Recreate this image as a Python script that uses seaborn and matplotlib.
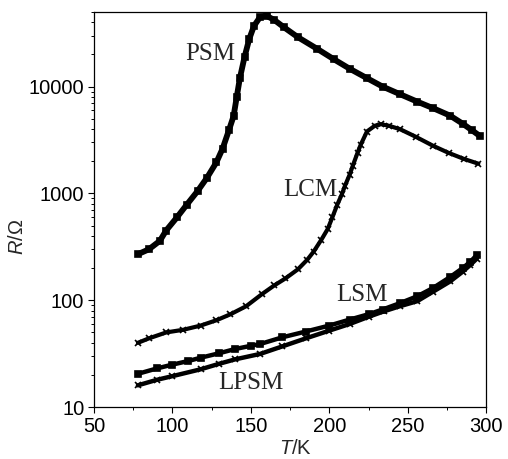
import numpy as np
import pandas as pd
import seaborn as sns
from matplotlib import pyplot as plt
from matplotlib import ticker

# R(T) curves
psm_t = [78, 85, 92, 96, 103, 109, 116, 122, 128, 132, 136, 139, 141, 143, 146, 149, 152, 156,
         160, 165, 171, 180, 192, 203, 213, 224, 234, 245, 256, 266, 277, 285, 291, 296]
psm_r = [270, 300, 360, 450, 600, 780, 1050, 1400, 1950, 2630, 3900, 5300, 8000, 12000, 19000,
         28000, 37000, 45000, 46000, 42000, 36000, 29000, 22700, 18000, 14700, 12000, 10000,
         8500, 7240, 6300, 5350, 4500, 3900, 3450]

lcm_t = [78, 85, 96, 107, 118, 128, 137, 147, 157, 165, 172, 180, 186, 190, 195, 199, 202, 205,
         208, 210, 213, 215, 218, 220, 224, 229, 233, 238, 245, 255, 266, 276, 286, 295]
lcm_r = [40, 44, 50, 53, 58, 65, 74, 88, 114, 138, 160, 195, 240, 285, 370, 465, 600, 780,
         980, 1180, 1500, 1820, 2400, 2850, 3800, 4300, 4450, 4300, 4000, 3400, 2800, 2400,
         2100, 1900]

lsm_t = [78, 90, 100, 110, 118, 130, 140, 150, 156, 170, 185, 200, 213, 225, 234, 245, 256,
         266, 277, 285, 290, 294]
lsm_r = [20.5, 23, 25, 27, 29, 32, 35, 37.5, 39, 45, 51, 58, 66, 74, 82, 94, 109, 130, 165,
         200, 230, 265]

lpsm_t = [78, 90, 100, 118, 130, 140, 156, 170, 185, 200, 213, 225, 235, 245, 256, 266, 277,
          285, 290, 294]
lpsm_r = [16, 18, 19.5, 22.6, 25.5, 28, 31.5, 37, 44, 52, 60, 70, 79, 88, 98, 120, 150, 185,
          215, 245]

sns.set_style('ticks')
plt.rcParams['font.family'] = ['Liberation Sans', 'DejaVu Sans']
plt.rcParams['mathtext.fontset'] = 'custom'
plt.rcParams['mathtext.it'] = 'Liberation Sans:italic'
plt.rcParams['mathtext.rm'] = 'Liberation Sans'

fig = plt.figure(figsize=(5.08, 4.59), dpi=100)
ax = fig.add_axes([0.185, 0.113, 0.772, 0.861])

series = [
    ('PSM', psm_t, psm_r, 's', 4.5, 4.2),
    ('LCM', lcm_t, lcm_r, 'x', 5, 3.0),
    ('LSM', lsm_t, lsm_r, 's', 4, 3.2),
    ('LPSM', lpsm_t, lpsm_r, 'x', 5, 3.2),
]
for name, t, r, mk, ms, lw in series:
    df = pd.DataFrame({'T': t, 'R': r})
    sns.lineplot(data=df, x='T', y='R', ax=ax, color='black', lw=lw, marker=mk,
                 markersize=ms, markeredgecolor='black', markeredgewidth=1.2)

ax.set_yscale('log')
ax.set_xlim(50, 300)
ax.set_ylim(10, 50000)
ax.yaxis.set_major_locator(ticker.FixedLocator([10, 100, 1000, 10000]))
ax.yaxis.set_major_formatter(ticker.FixedFormatter(['10', '100', '1000', '10000']))
ax.yaxis.set_minor_locator(ticker.LogLocator(base=10, subs=np.arange(2, 10)))
ax.yaxis.set_minor_formatter(ticker.NullFormatter())
ax.xaxis.set_major_locator(ticker.MultipleLocator(50))
ax.xaxis.set_minor_locator(ticker.MultipleLocator(25))

ax.tick_params(which='major', direction='out', length=4, width=0.8, labelsize=14.5, pad=3,
               color='black', labelcolor='black')
ax.tick_params(which='minor', direction='out', length=2.5, width=0.7, color='black')
for s in ax.spines.values():
    s.set_visible(True)
    s.set_color('black')
    s.set_linewidth(0.9)

ax.set_xlabel(r'$T$/K', fontsize=14.5)
ax.set_ylabel(r'$R$/Ω', fontsize=14.5)
ax.xaxis.set_label_coords(0.515, -0.08)
ax.yaxis.set_label_coords(-0.171, 0.43)

serif = ['Liberation Serif', 'DejaVu Serif']
ax.text(124, 20400, 'PSM', family=serif, fontsize=18, ha='center', va='center')
ax.text(188, 1070, 'LCM', family=serif, fontsize=18, ha='center', va='center')
ax.text(221, 111, 'LSM', family=serif, fontsize=18, ha='center', va='center')
ax.text(150, 16.8, 'LPSM', family=serif, fontsize=18, ha='center', va='center')

plt.savefig('out.png', dpi=100)
